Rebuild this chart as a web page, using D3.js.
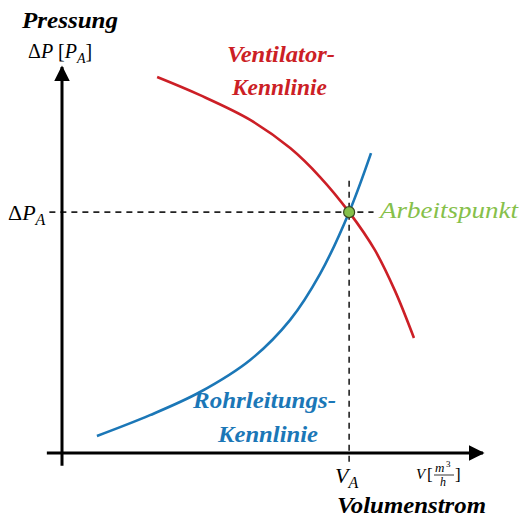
<!DOCTYPE html>
<html>
<head>
<meta charset="utf-8">
<script src="https://cdn.jsdelivr.net/npm/d3@7"></script>
<style>
  html, body { margin: 0; padding: 0; background: #fff; }
  svg { display: block; }
</style>
</head>
<body>
<svg id="chart" width="520" height="519"></svg>
<script>
// Fan characteristic (Ventilator-Kennlinie): volume flow vs. pressure
const fanFlow     = [22.6, 32.8, 44.7, 54.2, 61.3, 68.2, 74.3, 79.1, 83.6];
const fanPressure = [97.4, 92.7, 86.3, 79.0, 71.5, 62.4, 52.6, 42.0, 29.8];

// Pipe system characteristic (Rohrleitungs-Kennlinie)
const pipeFlow     = [8.3, 20.9, 32.8, 44.7, 54.2, 61.3, 68.2, 73.4];
const pipePressure = [4.4, 9.8, 15.8, 24.1, 34.5, 46.4, 62.4, 77.7];

// Operating point (Arbeitspunkt)
const opFlow = 68.2;
const opPressure = 62.4;

const FONT = "'Liberation Serif', 'DejaVu Serif', 'Noto Serif', serif";

const svg = d3.select("#chart").attr("font-family", FONT);

const x = d3.scaleLinear().domain([0, 100]).range([62, 483]);
const y = d3.scaleLinear().domain([0, 100]).range([453, 67]);

const red = "#cc1f26";
const blue = "#1b77b7";
const green = "#86c04a";

// Arrow marker for the axes
svg.append("defs").append("marker")
  .attr("id", "arrow")
  .attr("viewBox", "0 0 10 10")
  .attr("refX", 9).attr("refY", 5)
  .attr("markerWidth", 5.2).attr("markerHeight", 5.2)
  .attr("markerUnits", "strokeWidth")
  .attr("orient", "auto")
  .append("path")
  .attr("d", "M0,0 L10,5 L0,10 z")
  .attr("fill", "#000");

// Guide lines through the operating point
svg.append("line")
  .attr("x1", x(-3)).attr("x2", x(74))
  .attr("y1", y(opPressure)).attr("y2", y(opPressure))
  .attr("stroke", "#222").attr("stroke-width", 1.6)
  .attr("stroke-dasharray", "6,5");
svg.append("line")
  .attr("x1", x(opFlow)).attr("x2", x(opFlow))
  .attr("y1", y(70.5)).attr("y2", y(-3))
  .attr("stroke", "#222").attr("stroke-width", 1.6)
  .attr("stroke-dasharray", "6,5");

// Axes
svg.append("line")
  .attr("x1", x(-3.6)).attr("y1", y(0))
  .attr("x2", x(100)).attr("y2", y(0))
  .attr("stroke", "#000").attr("stroke-width", 3)
  .attr("marker-end", "url(#arrow)");
svg.append("line")
  .attr("x1", x(0)).attr("y1", y(-3.3))
  .attr("x2", x(0)).attr("y2", y(100))
  .attr("stroke", "#000").attr("stroke-width", 3)
  .attr("marker-end", "url(#arrow)");

const line = d3.line()
  .x(d => x(d[0]))
  .y(d => y(d[1]))
  .curve(d3.curveCatmullRom.alpha(0.5));

svg.append("path")
  .datum(pipeFlow.map((v, i) => [v, pipePressure[i]]))
  .attr("d", line)
  .attr("fill", "none").attr("stroke", blue).attr("stroke-width", 2.6);

svg.append("path")
  .datum(fanFlow.map((v, i) => [v, fanPressure[i]]))
  .attr("d", line)
  .attr("fill", "none").attr("stroke", red).attr("stroke-width", 2.6);

svg.append("circle")
  .attr("cx", x(opFlow)).attr("cy", y(opPressure)).attr("r", 5.5)
  .attr("fill", green).attr("stroke", "#3a4a20").attr("stroke-width", 1.2);

// Labels
function label(txt, px, py, opts) {
  const t = svg.append("text")
    .attr("x", px).attr("y", py)
    .attr("font-family", FONT)
    .attr("font-size", opts.size)
    .attr("font-style", "italic")
    .attr("font-weight", opts.bold ? "bold" : "normal")
    .attr("fill", opts.color || "#000")
    .text(txt);
  if (opts.len) t.attr("textLength", opts.len).attr("lengthAdjust", "spacingAndGlyphs");
  return t;
}

label("Pressung", 22, 28, { size: 24, bold: true, len: 96 });
label("Volumenstrom", 337, 513, { size: 23, bold: true, len: 149 });
label("Ventilator-", 227, 62, { size: 23, bold: true, color: red, len: 108 });
label("Kennlinie", 232, 95, { size: 23, bold: true, color: red, len: 95 });
label("Rohrleitungs-", 193, 408, { size: 23, bold: true, color: blue, len: 143 });
label("Kennlinie", 218, 442, { size: 23, bold: true, color: blue, len: 100 });
label("Arbeitspunkt", 380, 218, { size: 24, bold: false, color: green, len: 138 });

// ΔP [P_A] axis unit
const yUnit = svg.append("text").attr("x", 28).attr("y", 58).attr("font-size", 20).attr("font-family", FONT);
yUnit.append("tspan").text("Δ");
yUnit.append("tspan").attr("font-style", "italic").text("P");
yUnit.append("tspan").text(" [");
yUnit.append("tspan").attr("font-style", "italic").text("P");
yUnit.append("tspan").attr("font-style", "italic").attr("font-size", 14).attr("dy", 5).text("A");
yUnit.append("tspan").attr("dy", -5).text("]");

// ΔP_A tick label
const yTick = svg.append("text").attr("x", 8).attr("y", 220).attr("font-size", 22).attr("font-family", FONT);
yTick.append("tspan").text("Δ");
yTick.append("tspan").attr("font-style", "italic").text("P");
yTick.append("tspan").attr("font-style", "italic").attr("font-size", 16).attr("dy", 5).text("A");

// V_A tick label
const xTick = svg.append("text").attr("x", 335).attr("y", 483).attr("font-size", 22).attr("font-family", FONT);
xTick.append("tspan").attr("font-style", "italic").text("V");
xTick.append("tspan").attr("font-style", "italic").attr("font-size", 16).attr("dy", 5).text("A");

// V [m³/h] axis unit
const xu = svg.append("g").attr("transform", "translate(416,479)").attr("font-family", FONT);
xu.append("text").attr("x", 0).attr("y", 0).attr("font-size", 15).attr("font-style", "italic").text("V");
xu.append("text").attr("x", 11).attr("y", 1).attr("font-size", 17).text("[");
xu.append("text").attr("x", 19).attr("y", -7).attr("font-size", 13).attr("font-style", "italic").text("m");
xu.append("text").attr("x", 30).attr("y", -12).attr("font-size", 9).text("3");
xu.append("line").attr("x1", 18).attr("x2", 38).attr("y1", -4).attr("y2", -4)
  .attr("stroke", "#000").attr("stroke-width", 0.8);
xu.append("text").attr("x", 24).attr("y", 7).attr("font-size", 12).attr("font-style", "italic").text("h");
xu.append("text").attr("x", 39).attr("y", 1).attr("font-size", 17).text("]");
</script>
</body>
</html>
